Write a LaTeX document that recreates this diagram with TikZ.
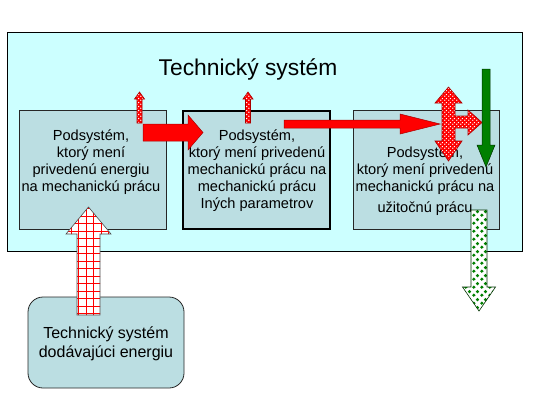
\documentclass[tikz,border=0pt]{standalone}
\usepackage{fontspec}
\setmainfont{Liberation Sans}
\usepackage{xcolor}
\usetikzlibrary{patterns}

\definecolor{bgcyan}{RGB}{204,255,255}
\definecolor{boxblue}{RGB}{187,222,226}
\definecolor{darkgreen}{RGB}{0,128,0}
\definecolor{darkred}{RGB}{170,0,0}

% fill patterns of the block arrows
\pgfdeclarepatternformonly{redgrid}{\pgfpoint{-0.5pt}{-0.5pt}}{\pgfpoint{8pt}{8pt}}{\pgfpoint{7.5pt}{7.5pt}}{%
  \pgfsetlinewidth{0.7pt}%
  \pgfpathmoveto{\pgfpoint{0pt}{3.75pt}}\pgfpathlineto{\pgfpoint{7.5pt}{3.75pt}}%
  \pgfpathmoveto{\pgfpoint{3.75pt}{0pt}}\pgfpathlineto{\pgfpoint{3.75pt}{7.5pt}}%
  \pgfusepath{stroke}}
\pgfdeclarepatternformonly{whitedots}{\pgfpointorigin}{\pgfpoint{4pt}{4pt}}{\pgfpoint{4pt}{4pt}}{%
  \pgfpathcircle{\pgfpoint{1pt}{1pt}}{0.9pt}%
  \pgfpathcircle{\pgfpoint{3pt}{3pt}}{0.9pt}%
  \pgfusepath{fill}}
\pgfdeclarepatternformonly{greendiamonds}{\pgfpointorigin}{\pgfpoint{8pt}{8pt}}{\pgfpoint{8pt}{8pt}}{%
  \pgfpathmoveto{\pgfpoint{2pt}{0.1pt}}\pgfpathlineto{\pgfpoint{3.9pt}{2pt}}%
  \pgfpathlineto{\pgfpoint{2pt}{3.9pt}}\pgfpathlineto{\pgfpoint{0.1pt}{2pt}}\pgfpathclose
  \pgfpathmoveto{\pgfpoint{6pt}{4.1pt}}\pgfpathlineto{\pgfpoint{7.9pt}{6pt}}%
  \pgfpathlineto{\pgfpoint{6pt}{7.9pt}}\pgfpathlineto{\pgfpoint{4.1pt}{6pt}}\pgfpathclose
  \pgfusepath{fill}}

\begin{document}
\begin{tikzpicture}[x=1pt,y=-1pt,
    subbox/.style={draw=black!85, line width=0.8pt, fill=boxblue, inner sep=0pt},
    boxtext/.style={align=center, inner sep=0pt, anchor=north, font=\fontsize{14.6}{17}\selectfont},
    redblock/.style={fill=red, draw=darkred, line width=0.5pt},
    dotblock/.style={preaction={fill=red}, pattern=whitedots, pattern color=white, draw=darkred, line width=0.6pt},
    gridblock/.style={preaction={fill=white}, pattern=redgrid, pattern color=red, draw=black!70, line width=0.6pt},
    greenblock/.style={fill=darkgreen, draw=black!60!darkgreen, line width=0.5pt},
    diamondblock/.style={preaction={fill=white}, pattern=greendiamonds, pattern color=darkgreen, draw=black!60!darkgreen, line width=0.6pt}]
        \useasboundingbox (0,0) rectangle (534,400);

        % the whole technical system
        \draw[fill=bgcyan, line width=0.8pt] (7,32) rectangle (522,251);
        \node[font=\fontsize{22.8}{27}\selectfont, anchor=base, inner sep=0pt] (title) at (248,75) {Technický systém};

        % three subsystems
        \node[subbox, minimum width=147pt, minimum height=119pt] (sub1) at (92.5,169.5) {};
        \node[subbox, draw=black, line width=2.4pt, minimum width=147pt, minimum height=118pt] (sub2) at (256.5,170) {};
        \node[subbox, minimum width=146pt, minimum height=119pt] (sub3) at (426,169.5) {};

        \node[boxtext] (text1) at (91,130) {Podsystém,\\ktorý mení\\privedenú energiu\\na mechanickú prácu};
        \node[boxtext] (text2) at (257,130) {Podsystém,\\ktorý mení privedenú\\mechanickú prácu na\\mechanickú prácu\\Iných parametrov};
        \node[boxtext] (text3) at (425,147) {Podsystém,\\ktorý mení privedenú\\mechanickú prácu na\\[4pt]užitočnú prácu};

        % system that supplies the energy
        \node[subbox, rounded corners=15pt, minimum width=156pt, minimum height=91pt] (source) at (106,342.5) {};
        \node[font=\fontsize{16}{19}\selectfont, align=center, inner sep=0pt, anchor=north] (sourcetext) at (106,327) {Technický systém\\dodávajúci energiu};

        % block arrows
        \draw[gridblock] (77,315) -- (77,234) -- (66,234) -- (88.5,207) -- (111,234) -- (100,234) -- (100,315) -- cycle; % energy in
        \draw[redblock] (143,124) -- (188,124) -- (188,115) -- (203,132.5) -- (188,150) -- (188,141) -- (143,141) -- cycle; % work to subsystem 2
        \draw[redblock] (284,120) -- (400,120) -- (400,114) -- (440,124) -- (400,134) -- (400,128) -- (284,128) -- cycle; % work to subsystem 3
        \draw[dotblock] (137,123) -- (137,99) -- (134.5,99) -- (139.5,92) -- (144.5,99) -- (142,99) -- (142,123) -- cycle; % loss 1
        \draw[dotblock] (245.5,123) -- (245.5,99) -- (243,99) -- (248,92) -- (253,99) -- (250.5,99) -- (250.5,123) -- cycle; % loss 2
        \draw[dotblock] (442,103) -- (435,103) -- (448.5,87) -- (462,103) -- (455,103) -- (455,116) -- (468,116) -- (468,110)
            -- (482,122.5) -- (468,135) -- (468,128) -- (455,128) -- (455,141) -- (462,141) -- (448.5,161) -- (435,141) -- (442,141) -- cycle; % losses 3
        \draw[greenblock] (482,69) -- (490,69) -- (490,145) -- (495,145) -- (486,167) -- (477,145) -- (482,145) -- cycle; % input from outside
        \draw[diamondblock] (471,210) -- (487,210) -- (487,287) -- (495.5,287) -- (479,311) -- (462.5,287) -- (471,287) -- cycle; % useful work out
    \end{tikzpicture}
\end{document}
